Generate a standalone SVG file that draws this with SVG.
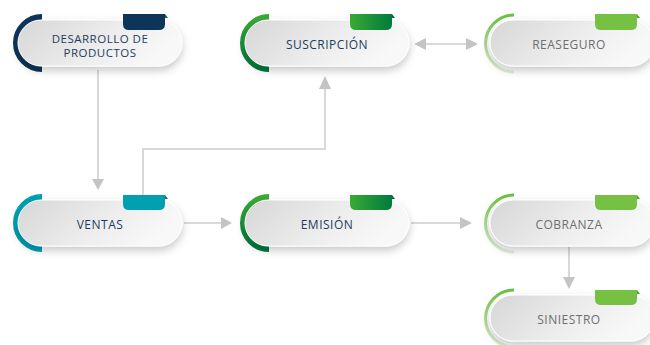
<svg xmlns="http://www.w3.org/2000/svg" width="650" height="345" viewBox="0 0 650 345">
<defs>
<linearGradient id="pillG" x1="0" y1="0" x2="1" y2="0.3">
<stop offset="0" stop-color="#D6D6D6"/>
<stop offset="0.6" stop-color="#EDEDED"/>
<stop offset="1" stop-color="#F8F8F8"/>
</linearGradient>
<linearGradient id="greenG" x1="0" y1="0" x2="1" y2="0">
<stop offset="0" stop-color="#3AAA35"/>
<stop offset="1" stop-color="#007A3D"/>
</linearGradient>
<linearGradient id="greenArc" x1="0" y1="0" x2="0" y2="1">
<stop offset="0" stop-color="#3AAA35"/>
<stop offset="1" stop-color="#007A3D"/>
</linearGradient>
<linearGradient id="lightArc" x1="0" y1="0" x2="0" y2="1">
<stop offset="0" stop-color="#6DBE45"/>
<stop offset="0.5" stop-color="#A8D88D"/>
<stop offset="1" stop-color="#E3F1DA"/>
</linearGradient>
<filter id="sh" x="-20%" y="-30%" width="140%" height="180%">
<feDropShadow dx="0" dy="4" stdDeviation="4" flood-color="#000" flood-opacity="0.22"/>
</filter>
</defs>
<style>
.pill{fill:url(#pillG);stroke:#FFFFFF;stroke-width:1;filter:url(#sh)}
.arc{fill:none;stroke-width:6}
.larc{fill:none;stroke:url(#lightArc);stroke-width:3}
.t{font-family:"Open Sans","DejaVu Sans",sans-serif;font-size:12px;font-weight:500;letter-spacing:0.5px;text-anchor:middle}
.t2{font-size:11.5px}
.dark{fill:#1D3D5E}
.gray{fill:#6D6E71}
.ln{fill:none;stroke:#CCCCCC;stroke-width:1.5}
.ah{fill:#C4C4C4}
</style>

<g id="connectors">
<line class="ln" x1="98" y1="70" x2="98" y2="180"/>
<polygon class="ah" points="92,179 104,179 98,190"/>
<polyline class="ln" points="143,195 143,149 325,149 325,88"/>
<polygon class="ah" points="319,89 331,89 325,76"/>
<line class="ln" x1="425" y1="44" x2="467" y2="44"/>
<polygon class="ah" points="426,38 426,50 414,44"/>
<polygon class="ah" points="466,38 466,50 478,44"/>
<line class="ln" x1="184" y1="223" x2="222" y2="223"/>
<polygon class="ah" points="221,217 221,229 232,223"/>
<line class="ln" x1="411" y1="223" x2="461" y2="223"/>
<polygon class="ah" points="460,217 460,229 472,223"/>
<line class="ln" x1="569" y1="247" x2="569" y2="278"/>
<polygon class="ah" points="563,277 575,277 569,289"/>
</g>

<g id="desarrollo" transform="translate(18,20)">
<path class="arc" stroke="#0E3559" d="M24,-3 A26,26 0 0 0 24,49"/>
<rect class="pill" x="0" y="0" width="164" height="46" rx="23"/>
<path fill="#0E3559" d="M105,-6 H147 V4 Q147,10 141,10 H111 Q105,10 105,4 Z"/>
<path fill="#1C5E4A" d="M147,-6 L150,-2 L147,-2 Z"/>
<text class="t t2 dark" x="82" y="23">DESARROLLO DE</text>
<text class="t t2 dark" x="82" y="37">PRODUCTOS</text>
</g>

<g id="suscripcion" transform="translate(245,20)">
<path class="arc" stroke="url(#greenArc)" d="M24,-3 A26,26 0 0 0 24,49"/>
<rect class="pill" x="0" y="0" width="164" height="46" rx="23"/>
<path fill="url(#greenG)" d="M105,-6 H147 V4 Q147,10 141,10 H111 Q105,10 105,4 Z"/>
<path fill="#006B35" d="M147,-6 L150,-2 L147,-2 Z"/>
<text class="t dark" x="82" y="29">SUSCRIPCIÓN</text>
</g>

<g id="reaseguro" transform="translate(490,20)">
<path class="larc" d="M24,-5 A27.5,27.5 0 0 0 24,52"/>
<rect class="pill" x="0" y="0" width="164" height="46" rx="23"/>
<path fill="#76C043" d="M105,-6 H147 V4 Q147,10 141,10 H111 Q105,10 105,4 Z"/>
<path fill="#4E9E2E" d="M147,-6 L150,-2 L147,-2 Z"/>
<text class="t gray" x="79" y="29">REASEGURO</text>
</g>

<g id="ventas" transform="translate(18,200)">
<path class="arc" stroke="#009FB2" d="M24,-3 A26,26 0 0 0 24,49"/>
<rect class="pill" x="0" y="0" width="164" height="46" rx="23"/>
<path fill="#009FB2" d="M105,-5 H147 V4 Q147,10 141,10 H111 Q105,10 105,4 Z"/>
<path fill="#1C6E4A" d="M147,-5 L150,-1 L147,-1 Z"/>
<text class="t dark" x="82" y="29">VENTAS</text>
</g>

<g id="emision" transform="translate(245,200)">
<path class="arc" stroke="url(#greenArc)" d="M24,-3 A26,26 0 0 0 24,49"/>
<rect class="pill" x="0" y="0" width="164" height="46" rx="23"/>
<path fill="url(#greenG)" d="M105,-5 H147 V4 Q147,10 141,10 H111 Q105,10 105,4 Z"/>
<path fill="#006B35" d="M147,-5 L150,-1 L147,-1 Z"/>
<text class="t dark" x="82" y="29">EMISIÓN</text>
</g>

<g id="cobranza" transform="translate(490,200)">
<path class="larc" d="M24,-5 A27.5,27.5 0 0 0 24,52"/>
<rect class="pill" x="0" y="0" width="164" height="46" rx="23"/>
<path fill="#76C043" d="M105,-5 H147 V4 Q147,10 141,10 H111 Q105,10 105,4 Z"/>
<path fill="#4E9E2E" d="M147,-5 L150,-1 L147,-1 Z"/>
<text class="t gray" x="79" y="29">COBRANZA</text>
</g>

<g id="siniestro" transform="translate(490,295)">
<path class="larc" d="M24,-5 A27.5,27.5 0 0 0 24,52"/>
<rect class="pill" x="0" y="0" width="164" height="46" rx="23"/>
<path fill="#76C043" d="M105,-5 H147 V4 Q147,10 141,10 H111 Q105,10 105,4 Z"/>
<path fill="#4E9E2E" d="M147,-5 L150,-1 L147,-1 Z"/>
<text class="t gray" x="79" y="29">SINIESTRO</text>
</g>
</svg>
